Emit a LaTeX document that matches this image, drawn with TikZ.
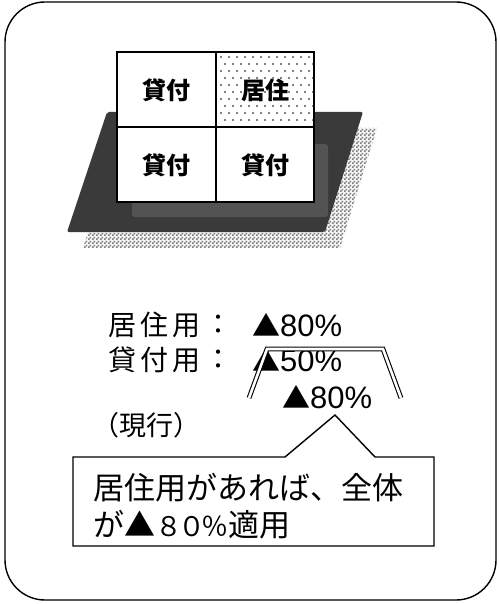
\documentclass[tikz,border=0pt]{standalone}
\usepackage{fontspec}
\setmainfont{Noto Sans CJK JP}
\newfontfamily\latinf{Liberation Sans}
\usetikzlibrary{patterns}
\definecolor{darkbase}{HTML}{3A3A3A}
\definecolor{midbase}{HTML}{535353}
\definecolor{checkgray}{HTML}{7C7C7C}
\definecolor{checklight}{HTML}{F4F4F4}
\pgfdeclarepatternformonly{finecheck}{\pgfpointorigin}{\pgfpoint{4pt}{4pt}}{\pgfpoint{4pt}{4pt}}{%
  \pgfpathrectangle{\pgfpointorigin}{\pgfpoint{2pt}{2pt}}%
  \pgfpathrectangle{\pgfpoint{2pt}{2pt}}{\pgfpoint{2pt}{2pt}}%
  \pgfusepath{fill}}
\tikzset{
  outerframe/.style={draw=black, line width=1.4pt, rounded corners=40pt},
  cellbox/.style={draw=black, line width=1.1pt, fill=white},
  celltext/.style={font=\fontsize{24}{28}\selectfont\bfseries, inner sep=0pt},
  labeltext/.style={font=\fontsize{28}{32}\selectfont, inner sep=0pt, anchor=west},
  calltext/.style={font=\fontsize{31}{36}\selectfont, inner sep=0pt, anchor=west},
  bracketline/.style={draw=black, double=white, double distance=2.6pt, line width=1.1pt},
  callbox/.style={draw=black, line width=1.4pt, fill=white},
}
\newcommand{\ks}{\kern4pt}
\newcommand{\pct}[1]{{\latinf\fontsize{31}{34}\selectfont #1\%}}
\begin{document}
\begin{tikzpicture}[x=1pt, y=-1pt]
\useasboundingbox (0,0) rectangle (499,604);
% outer frame
\draw[outerframe] (5,2) rectangle (496,600);
% checkered shadow
\fill[checklight] (121,128) -- (377,128) -- (340,248) -- (83,248) -- cycle;
\fill[pattern=finecheck, pattern color=checkgray] (121,128) -- (377,128) -- (340,248) -- (83,248) -- cycle;
% dark base
\fill[darkbase, rounded corners=2pt] (107,112) -- (363,112) -- (325,232) -- (67,232) -- cycle;
\fill[midbase, rounded corners=3pt] (132,144) rectangle (328,217);
% grid cells
\draw[cellbox] (117,52) rectangle (216,127);
\draw[cellbox] (216,52) rectangle (314,127);
\foreach \r in {0,...,9}{
  \pgfmathsetmacro{\yy}{57+7*\r}
  \pgfmathsetmacro{\off}{mod(\r,2)*4}
  \foreach \c in {0,...,11}{
    \fill[black] ({221+\off+8*\c},\yy) circle (0.85pt);
  }
}
\draw[cellbox] (117,127) rectangle (216,202);
\draw[cellbox] (216,127) rectangle (314,202);
\draw[line width=1.1pt] (117,52) rectangle (314,202);
\node[celltext] (c11) at (166.5,90) {貸付};
\node[celltext] (c12) at (265,90) {居住};
\node[celltext] (c21) at (166.5,165) {貸付};
\node[celltext] (c22) at (265,165) {貸付};
% labels
\node[labeltext] (l1) at (108,325) {居\ks 住\ks 用};
\node[labeltext] (l1c) at (204,325) {：};
\node[labeltext] (l1v) at (252,325) {▲\pct{80}};
\node[labeltext] (l2) at (108,360) {貸\ks 付\ks 用};
\node[labeltext] (l2c) at (204,360) {：};
\node[labeltext] (l2v) at (252,360) {▲\pct{50}};
% double bracket
\draw[bracketline] (249,398) -- (267,349) -- (383,349) -- (401,398);
\node[labeltext] (l3v) at (282,397) {▲\pct{80}};
\node[labeltext, font=\fontsize{27}{30}\selectfont] (gen) at (92,425) {（現行）};
% callout
\draw[callbox] (73,457) -- (285,457) -- (335,415) -- (375,457) -- (434,457) -- (434,546) -- (73,546) -- cycle;
\node[calltext] (t1) at (93,488) {居住用があれば、全体};
\node[calltext] (t2) at (93,525) {が▲{\fontsize{27}{30}\selectfont ８\kern-4pt ０\kern-4pt ％}適用};
\end{tikzpicture}
\end{document}
